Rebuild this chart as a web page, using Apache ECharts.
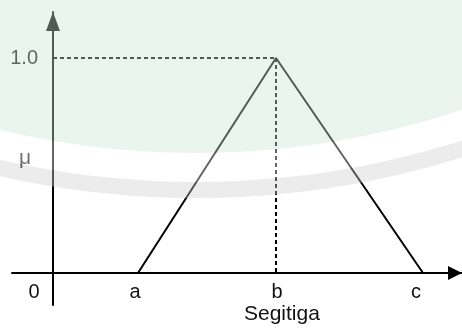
<!DOCTYPE html>
<html>
<head>
<meta charset="utf-8">
<style>
  html, body { margin: 0; padding: 0; background: #fff; }
  #chart { width: 462px; height: 329px; }
</style>
<script src="https://cdn.jsdelivr.net/npm/echarts@6.0.0/dist/echarts.min.js"></script>
</head>
<body>
<div id="chart"></div>
<script>
// titik a, b, c pada sumbu x dan derajat keanggotaannya
const pointX = [85, 223, 370];
const membership = [0, 1, 0];
// label sumbu
const xTickValues = [-19, 82, 224, 363];
const xTickLabels = ['0', 'a', 'b', 'c'];
const yTickValues = [1];
const yTickLabels = ['1.0'];

const font = 'Liberation Sans, Arial, sans-serif';

var myChart = echarts.init(document.getElementById('chart'));

const triangle = pointX.map((x, i) => [x, membership[i]]);
const peakX = pointX[1];
const peakY = membership[1];

myChart.setOption({
  animation: false,
  backgroundColor: '#fff',
  title: {
    text: 'Segitiga',
    left: 244,
    top: 304,
    padding: 0,
    textStyle: { fontFamily: font, fontSize: 21, fontWeight: 'normal', color: '#111' }
  },
  grid: { left: 12, right: 0, top: 12, bottom: 24, containLabel: false, outerBoundsMode: 'none' },
  xAxis: {
    type: 'value',
    min: -41,
    max: 409,
    splitLine: { show: false },
    axisTick: { show: false },
    axisLine: {
      onZero: true,
      symbol: ['none', 'triangle'],
      symbolSize: [14, 14],
      symbolOffset: [0, -7],
      lineStyle: { color: '#000', width: 2 }
    },
    axisLabel: {
      customValues: xTickValues,
      formatter: (v) => xTickLabels[xTickValues.indexOf(v)],
      margin: -23,
      fontFamily: font,
      fontSize: 20,
      color: '#111'
    }
  },
  yAxis: {
    type: 'value',
    min: -0.149,
    max: 1.214,
    name: 'μ',
    nameLocation: 'middle',
    nameRotate: 0,
    nameGap: -13,
    nameMoveOverlap: false,
    nameTextStyle: { fontFamily: font, fontSize: 21, color: '#111', align: 'center' },
    splitLine: { show: false },
    axisTick: { show: false },
    axisLine: {
      onZero: true,
      symbol: ['none', 'triangle'],
      symbolSize: [14, 19],
      symbolOffset: [0, -9.5],
      lineStyle: { color: '#000', width: 2 }
    },
    axisLabel: {
      customValues: yTickValues,
      formatter: (v) => yTickLabels[yTickValues.indexOf(v)],
      margin: -26,
      fontFamily: font,
      fontSize: 20,
      color: '#111'
    }
  },
  series: [
    {
      type: 'line',
      data: triangle,
      showSymbol: false,
      lineStyle: { color: '#000', width: 2 }
    },
    {
      type: 'line',
      data: [[0, peakY], [peakX, peakY]],
      showSymbol: false,
      lineStyle: { color: '#000', width: 2, type: [4, 3] }
    },
    {
      type: 'line',
      data: [[peakX, peakY], [peakX, 0]],
      showSymbol: false,
      lineStyle: { color: '#000', width: 2, type: [4, 3] }
    }
  ],
  // watermark (logo) di bagian atas gambar
  graphic: [
    {
      type: 'circle',
      silent: true,
      z: 100,
      shape: { cx: 196, cy: -692, r: 845 },
      style: { fill: 'rgba(203,230,215,0.4)' }
    },
    {
      type: 'ring',
      silent: true,
      z: 100,
      shape: { cx: 196, cy: -692, r: 874, r0: 845 },
      style: { fill: 'rgba(255,255,255,0.4)' }
    },
    {
      type: 'ring',
      silent: true,
      z: 100,
      shape: { cx: 196, cy: -692, r: 890, r0: 874 },
      style: { fill: 'rgba(208,208,208,0.4)' }
    }
  ]
});
</script>
</body>
</html>
